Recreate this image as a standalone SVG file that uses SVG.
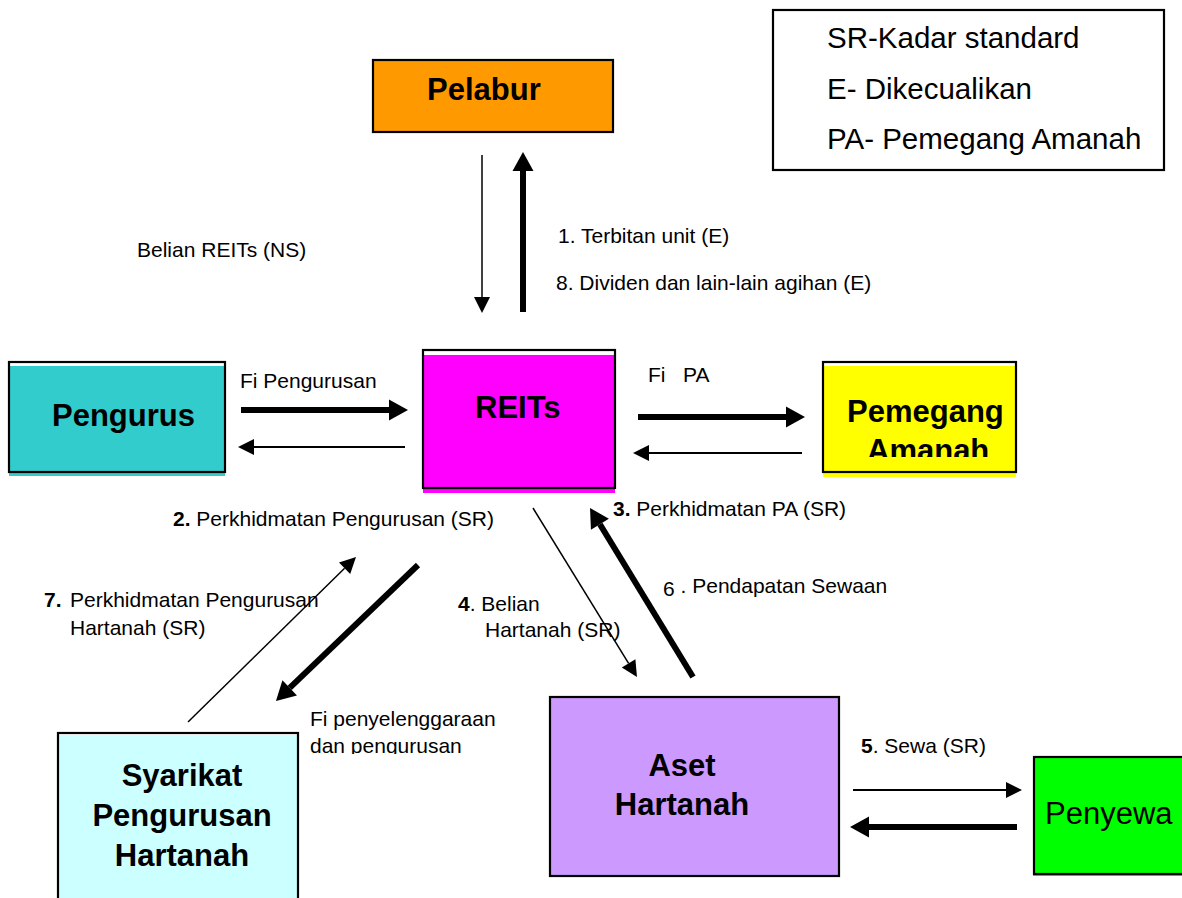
<svg xmlns="http://www.w3.org/2000/svg" width="1182" height="898" viewBox="0 0 1182 898">
<style>
.box{stroke:#000;stroke-width:2.2;fill:none}
.nt{font-family:"Liberation Sans",Arial,sans-serif;font-weight:bold;font-size:31px;fill:#000}
.lb{font-family:"Liberation Sans",Arial,sans-serif;font-size:21px;fill:#000}
.big{font-size:31px}
.lg{font-family:"Liberation Sans",Arial,sans-serif;font-size:29.5px;fill:#000}
.b{font-weight:bold}
.thick{stroke:#000;stroke-width:6;fill:none;marker-end:url(#hThick)}
.thin{stroke:#000;stroke-width:2;fill:none;marker-end:url(#hThin)}
.hair{stroke:#000;stroke-width:1.5;fill:none;marker-end:url(#hThin)}
</style>
<defs>
<marker id="hThick" markerUnits="userSpaceOnUse" orient="auto" refX="0" refY="0" markerWidth="20" markerHeight="22" overflow="visible">
<path d="M0,-10.5 L19,0 L0,10.5 z" fill="#000"/>
</marker>
<marker id="hThin" markerUnits="userSpaceOnUse" orient="auto" refX="0" refY="0" markerWidth="18" markerHeight="18" overflow="visible">
<path d="M0,-8 L16,0 L0,8 z" fill="#000"/>
</marker>
<clipPath id="clipPA"><rect x="823" y="362" width="193" height="95"/></clipPath>
<clipPath id="clipFi"><rect x="300" y="700" width="250" height="54"/></clipPath>
</defs>
<rect width="1182" height="898" fill="#fff"/>

<g id="legend">
<rect x="773" y="10" width="391" height="160" class="box" stroke-width="2"/>
<text x="827" y="48" class="lg">SR-Kadar standard</text>
<text x="827" y="99" class="lg">E- Dikecualikan</text>
<text x="827" y="149" class="lg">PA- Pemegang Amanah</text>
</g>

<g id="pelabur">
<rect x="373" y="60" width="240" height="72" fill="#FF9900"/>
<rect x="373" y="60" width="240" height="72" class="box"/>
<text x="427" y="100" class="nt">Pelabur</text>
</g>

<g id="pengurus">
<rect x="9" y="366" width="216" height="110" fill="#33CCCC"/>
<rect x="9" y="362" width="216" height="110" class="box"/>
<text x="52" y="426" class="nt">Pengurus</text>
</g>

<g id="reits">
<rect x="423" y="355" width="192" height="138" fill="#FF00FF"/>
<rect x="423" y="350" width="192" height="138" class="box"/>
<text x="475" y="418" class="nt">REITs</text>
</g>

<g id="pemegang-amanah">
<rect x="823" y="366" width="193" height="111" fill="#FFFF00"/>
<rect x="823" y="362" width="193" height="110" class="box"/>
<g clip-path="url(#clipPA)">
<text x="847" y="422" class="nt">Pemegang</text>
<text x="867" y="461" class="nt">Amanah</text>
</g>
</g>

<g id="syarikat">
<rect x="58" y="735" width="240" height="175" fill="#CCFFFF"/>
<rect x="58" y="733" width="240" height="177" class="box"/>
<text x="182" y="786" class="nt" text-anchor="middle">Syarikat</text>
<text x="182" y="826" class="nt" text-anchor="middle">Pengurusan</text>
<text x="182" y="866" class="nt" text-anchor="middle">Hartanah</text>
</g>

<g id="aset">
<rect x="550" y="697" width="289" height="179" fill="#CC99FF"/>
<rect x="550" y="697" width="289" height="179" class="box"/>
<text x="682" y="776" class="nt" text-anchor="middle">Aset</text>
<text x="682" y="815" class="nt" text-anchor="middle">Hartanah</text>
</g>

<g id="penyewa">
<rect x="1033" y="758" width="160" height="118" fill="#00FF00"/>
<rect x="1034" y="757" width="160" height="117" class="box"/>
<text x="1045" y="824" class="lb big">Penyewa</text>
</g>

<g id="connectors">
<line x1="482" y1="155" x2="482" y2="297" class="hair"/>
<line x1="523" y1="312" x2="523" y2="171" class="thick"/>
<line x1="241" y1="410" x2="389" y2="410" class="thick"/>
<line x1="405" y1="447" x2="254" y2="447" class="thin"/>
<line x1="638" y1="417" x2="786" y2="417" class="thick"/>
<line x1="802" y1="453" x2="649" y2="453" class="thin"/>
<line x1="188" y1="722" x2="344.6" y2="568.2" class="hair"/>
<line x1="418" y1="565" x2="289.7" y2="687.8" class="thick"/>
<line x1="533" y1="508" x2="628.6" y2="663.4" class="hair"/>
<line x1="693" y1="677" x2="599.9" y2="524.2" class="thick"/>
<line x1="853" y1="790" x2="1006" y2="790" class="thin"/>
<line x1="1017" y1="827" x2="869" y2="827" class="thick"/>
</g>

<g id="labels">
<text x="137" y="257" class="lb">Belian REITs (NS)</text>
<text x="558" y="243" class="lb">1. Terbitan unit (E)</text>
<text x="556" y="290" class="lb">8. Dividen dan lain-lain agihan (E)</text>
<text x="240" y="388" class="lb">Fi Pengurusan</text>
<text x="648" y="382" class="lb">Fi</text>
<text x="683" y="382" class="lb">PA</text>
<text x="173" y="526" class="lb"><tspan class="b">2.</tspan> Perkhidmatan Pengurusan (SR)</text>
<text x="613" y="516" class="lb"><tspan class="b">3.</tspan> Perkhidmatan PA (SR)</text>
<text x="663" y="596" class="lb">6<tspan dy="-3"> . Pendapatan Sewaan</tspan></text>
<text x="458" y="611" class="lb"><tspan class="b">4</tspan>. Belian</text>
<text x="485" y="637" class="lb">Hartanah (SR)</text>
<text x="44" y="607" class="lb"><tspan class="b">7.</tspan></text>
<text x="70" y="607" class="lb">Perkhidmatan Pengurusan</text>
<text x="70" y="635" class="lb">Hartanah (SR)</text>
<text x="310" y="726" class="lb">Fi penyelenggaraan</text>
<text x="310" y="753" class="lb" clip-path="url(#clipFi)">dan pengurusan</text>
<text x="861" y="753" class="lb"><tspan class="b">5</tspan>. Sewa (SR)</text>
</g>
</svg>
